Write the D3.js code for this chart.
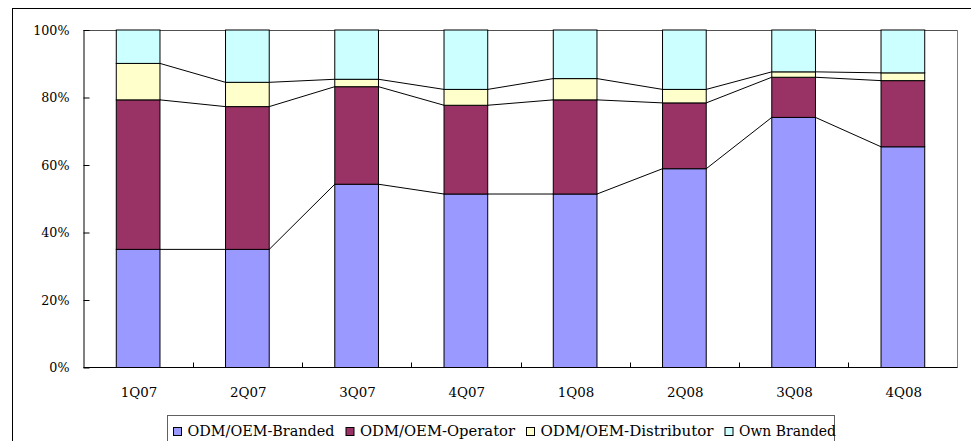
<!DOCTYPE html>
<html>
<head>
<meta charset="utf-8">
<script src="https://cdn.jsdelivr.net/npm/d3@7"></script>
<style>
  html, body { margin: 0; padding: 0; background: #fff; }
  svg { display: block; }
  text { font-family: "DejaVu Serif", serif; fill: #000; }
</style>
</head>
<body>
<svg id="chart" width="971" height="441"></svg>
<script>
// Quarterly shipment mix, share of units (%)
const quarters = ["1Q07", "2Q07", "3Q07", "4Q07", "1Q08", "2Q08", "3Q08", "4Q08"];
const seriesNames = ["ODM/OEM-Branded", "ODM/OEM-Operator", "ODM/OEM-Distributor", "Own Branded"];
const odmBranded     = [35.0, 35.0, 54.3, 51.4, 51.4, 58.9, 74.1, 65.4];
const odmOperator    = [44.3, 42.3, 28.9, 26.3, 27.9, 19.5, 11.9, 19.6];
const odmDistributor = [10.8,  7.2,  2.2,  4.7,  6.3,  4.0,  1.6,  2.3];
const ownBranded     = [ 9.9, 15.5, 14.6, 17.6, 14.4, 17.6, 12.4, 12.7];
const yTicks = [0, 20, 40, 60, 80, 100];
const colors = ["#9999FF", "#993366", "#FFFFCC", "#CCFFFF"];

// legend label widths (px) so the key fits its frame
const legendLabelWidths = [147, 155, 173, 97];

const svg = d3.select("#chart");

// outer chart frame
svg.append("rect")
  .attr("x", 12.5).attr("y", 8.5)
  .attr("width", 1000).attr("height", 500)
  .attr("fill", "none").attr("stroke", "#000").attr("stroke-width", 1);

const plot = { left: 83.5, right: 957.5, top: 30, bottom: 367.5 };

const x = d3.scaleBand()
  .domain(quarters)
  .range([plot.left, plot.right])
  .paddingInner(0.6)
  .paddingOuter(0.3);

const y = d3.scaleLinear()
  .domain([0, 100])
  .range([plot.bottom, plot.top]);

// stacked data
const rows = quarters.map((q, i) => ({
  quarter: q,
  s0: odmBranded[i], s1: odmOperator[i], s2: odmDistributor[i], s3: ownBranded[i]
}));
const keys = ["s0", "s1", "s2", "s3"];
const stacked = d3.stack().keys(keys)(rows);

// plot area border (top and right)
svg.append("line")
  .attr("x1", plot.left).attr("x2", plot.right)
  .attr("y1", plot.top + 0.5).attr("y2", plot.top + 0.5)
  .attr("stroke", "#505050").attr("stroke-width", 1);
svg.append("line")
  .attr("x1", plot.right).attr("x2", plot.right)
  .attr("y1", plot.top).attr("y2", plot.bottom)
  .attr("stroke", "#808080").attr("stroke-width", 1);

// series lines joining segment tops between neighbouring bars
const bw = x.bandwidth();
stacked.slice(0, 3).forEach(layer => {
  for (let i = 0; i < layer.length - 1; i++) {
    svg.append("line")
      .attr("x1", x(quarters[i]) + bw).attr("y1", y(layer[i][1]))
      .attr("x2", x(quarters[i + 1])).attr("y2", y(layer[i + 1][1]))
      .attr("stroke", "#000").attr("stroke-width", 1);
  }
});

// bars
svg.append("g").selectAll("g")
  .data(stacked)
  .join("g")
  .attr("fill", (d, i) => colors[i])
  .selectAll("rect")
  .data(d => d)
  .join("rect")
  .attr("x", d => x(d.data.quarter))
  .attr("y", d => y(d[1]))
  .attr("width", bw)
  .attr("height", d => y(d[0]) - y(d[1]))
  .attr("stroke", "#000")
  .attr("stroke-width", 1);

// y axis
const yAxis = svg.append("g")
  .attr("transform", `translate(${plot.left},0)`)
  .call(d3.axisLeft(y).tickValues(yTicks).tickFormat(d => d + "%").tickSizeInner(-6).tickSizeOuter(0).tickPadding(14));
yAxis.select(".domain").attr("stroke", "#000");
yAxis.selectAll(".tick line").attr("stroke", "#000");
yAxis.selectAll("text").attr("font-family", "DejaVu Serif").attr("font-size", 12.7).attr("fill", "#000");

// x axis with ticks between categories
const step = x.step();
const xAxis = svg.append("g").attr("transform", `translate(0,${plot.bottom})`);
xAxis.append("line")
  .attr("x1", plot.left).attr("x2", plot.right)
  .attr("stroke", "#000").attr("stroke-width", 1);
quarters.slice(1).forEach(q => {
  const bx = Math.round(x(q) - (step - bw) / 2) + 0.5;
  xAxis.append("line")
    .attr("x1", bx).attr("x2", bx).attr("y1", 0).attr("y2", -5)
    .attr("stroke", "#000");
});
xAxis.selectAll("text.xl")
  .data(quarters)
  .join("text")
  .attr("class", "xl")
  .attr("x", d => x(d) + bw / 2 + 1)
  .attr("y", 29.5)
  .attr("text-anchor", "middle")
  .attr("font-size", 13.4)
  .text(d => d);

// legend
const legend = svg.append("g");
legend.append("rect")
  .attr("x", 167.5).attr("y", 415.5)
  .attr("width", 667).attr("height", 60)
  .attr("fill", "#fff").attr("stroke", "#606060").attr("stroke-width", 1);
let lx = 173.5;
seriesNames.forEach((name, i) => {
  legend.append("rect")
    .attr("x", lx).attr("y", 427.5)
    .attr("width", 8).attr("height", 8)
    .attr("fill", colors[i]).attr("stroke", "#000").attr("stroke-width", 1);
  legend.append("text")
    .attr("x", lx + 14).attr("y", 436)
    .attr("font-size", 14.5)
    .attr("textLength", legendLabelWidths[i])
    .attr("lengthAdjust", "spacingAndGlyphs")
    .text(name);
  lx += 14 + legendLabelWidths[i] + 11.5;
});
</script>
</body>
</html>
